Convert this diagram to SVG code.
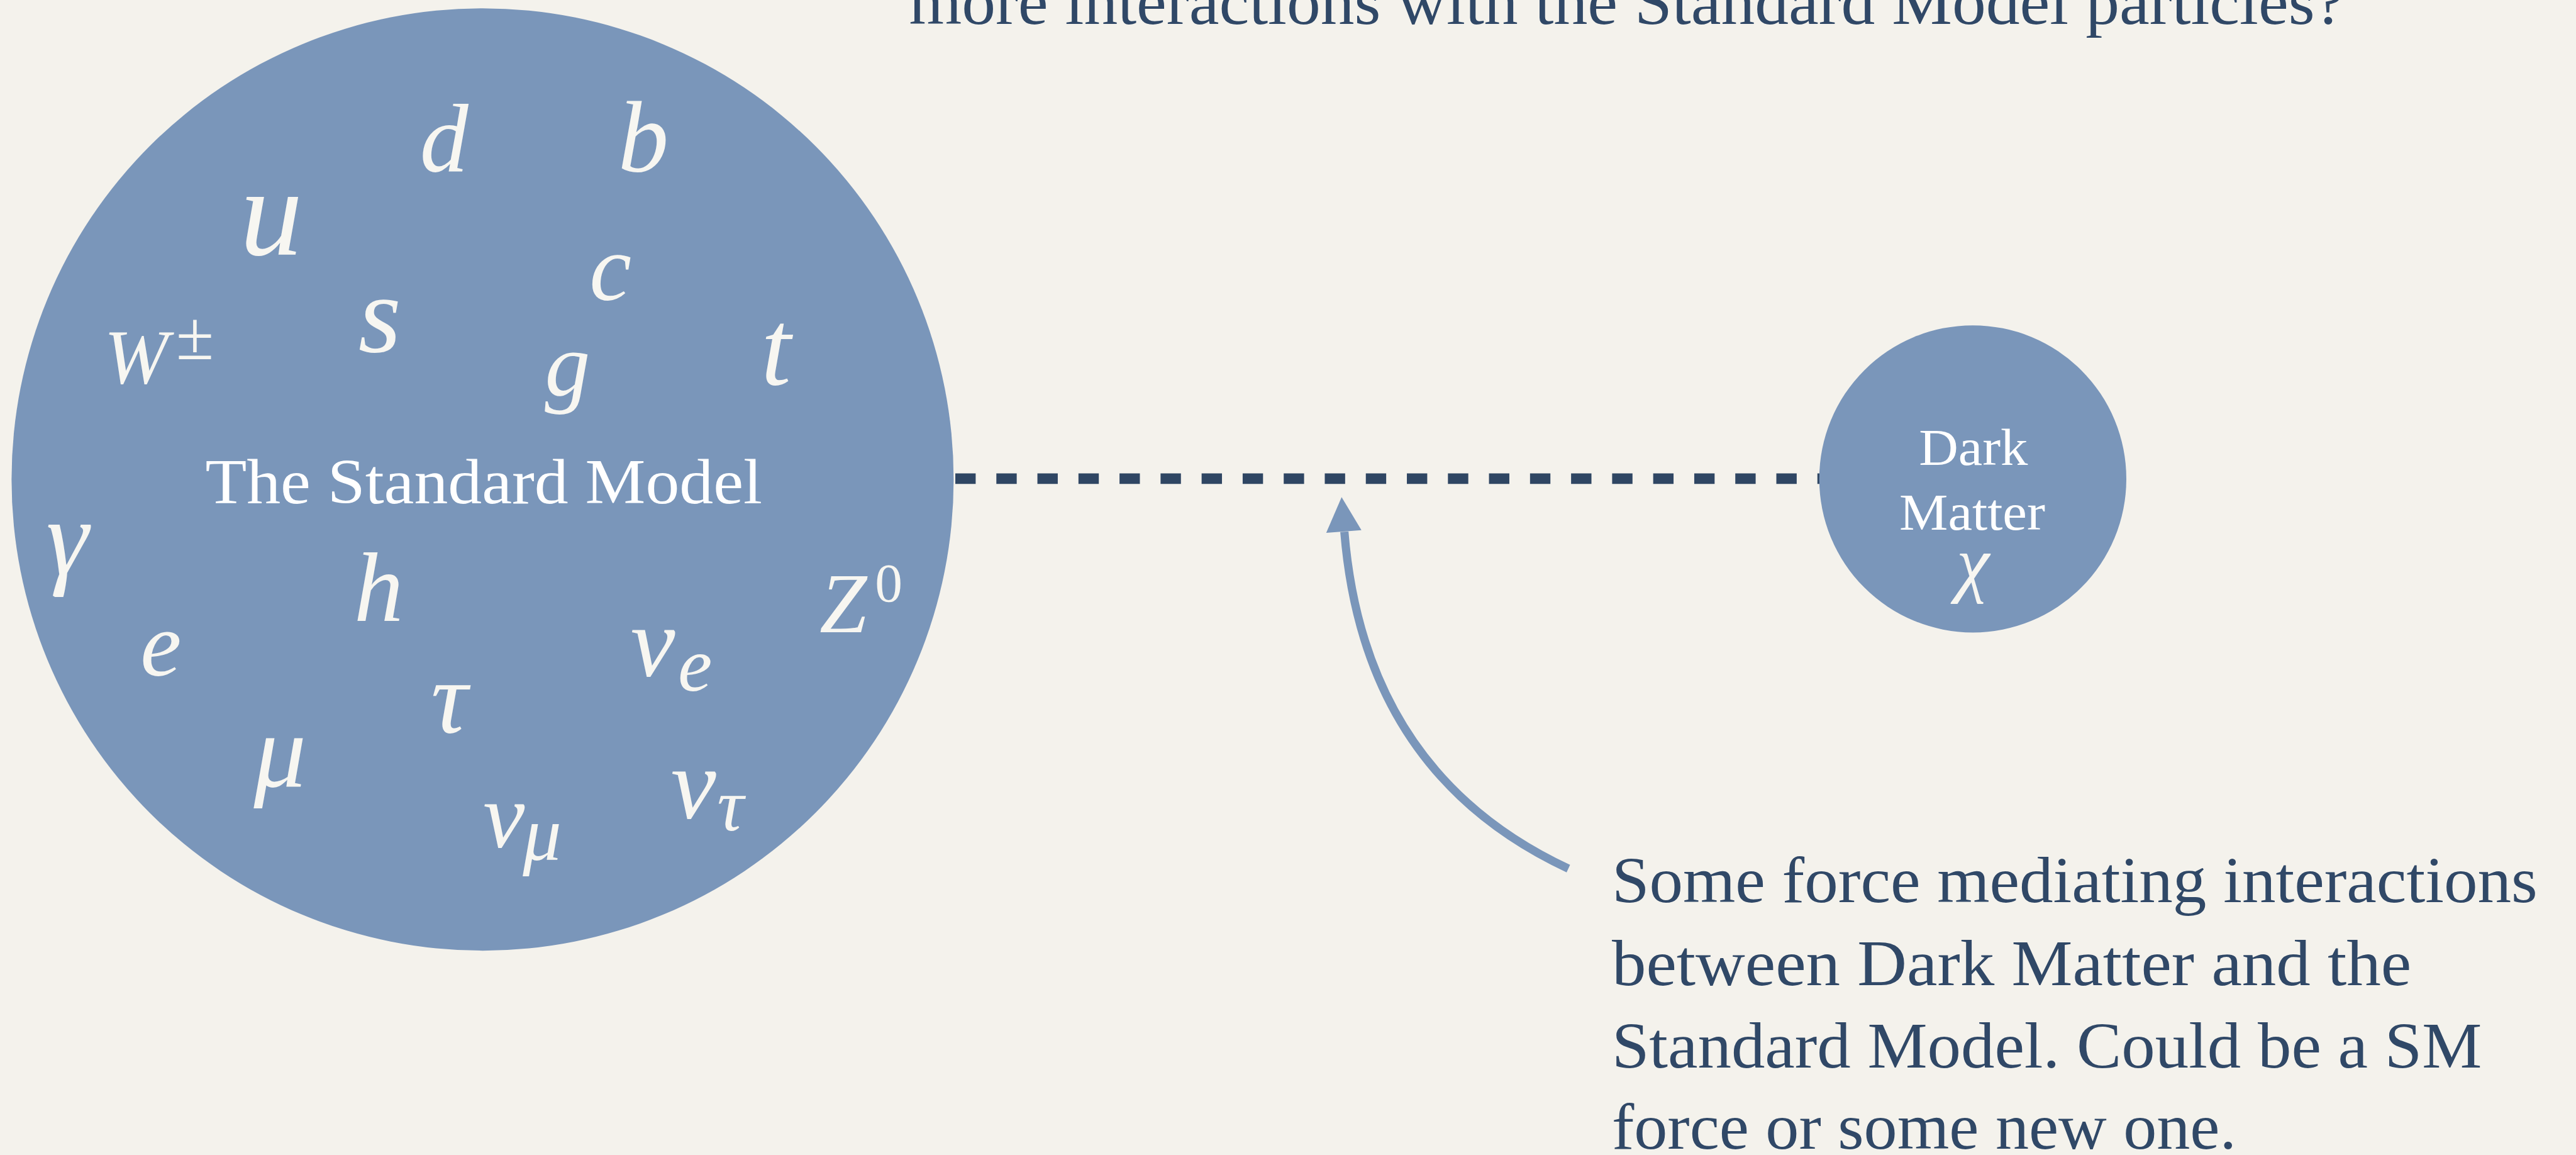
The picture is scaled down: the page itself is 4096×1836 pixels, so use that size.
<svg xmlns="http://www.w3.org/2000/svg" width="4096" height="1836" viewBox="0 0 4096 1836">
<style>
.txt{font-family:"Liberation Serif","Times New Roman",serif;fill:#304867;font-size:118px}
.wt{font-family:"Liberation Serif","Times New Roman",serif;fill:#FFFFFF}
.m{font-family:"Liberation Serif","Times New Roman",serif;font-style:italic;fill:#F7F6F1}
.r{font-family:"Liberation Serif","Times New Roman",serif;fill:#F7F6F1}
.node{fill:#7A96BA}
</style>
<rect x="0" y="0" width="4096" height="1836" fill="#F4F2EC"/>
<g transform="scale(0.875)">
  <text id="question" class="txt" x="1652" y="43" textLength="2609" lengthAdjust="spacingAndGlyphs">more interactions with the Standard Model particles?</text>

  <g id="connectors">
    <line x1="1736" y1="869.5" x2="3330" y2="869.5" stroke="#2F4663" stroke-width="19" stroke-dasharray="37 37.6"/>
    <path d="M2850,1578 C2640,1480 2470,1300 2443,966" fill="none" stroke="#7A96BA" stroke-width="15"/>
    <polygon points="2438,903 2410,968 2474,963" fill="#7A96BA"/>
  </g>

  <g id="standard-model">
    <circle class="node" cx="877" cy="871" r="856"/>
    <text class="wt" x="373" y="914" font-size="116" textLength="1012" lengthAdjust="spacingAndGlyphs">The Standard Model</text>
    <text class="m" x="763" y="311" font-size="176">d</text>
    <text class="m" x="1123" y="311" font-size="184">b</text>
    <text class="m" x="436" y="463" font-size="228">u</text>
    <text class="m" x="189" y="696" font-size="140">W</text>
    <text class="r" x="320" y="652" font-size="125">±</text>
    <text class="m" x="651" y="639" font-size="200">s</text>
    <text class="m" x="1071" y="545" font-size="172">c</text>
    <text class="m" x="990" y="718" font-size="165">g</text>
    <text class="m" x="1383" y="698" font-size="195">t</text>
    <text class="m" x="84" y="1042" font-size="195">γ</text>
    <text class="m" x="643" y="1128" font-size="180">h</text>
    <text class="m" x="1489" y="1149" font-size="155">Z</text>
    <text class="r" x="1590" y="1092" font-size="100">0</text>
    <text class="m" x="255" y="1227" font-size="168">e</text>
    <text class="m" x="1146" y="1227" font-size="182">ν</text>
    <text class="m" x="1232" y="1255" font-size="140">e</text>
    <text class="m" x="783" y="1330" font-size="186">τ</text>
    <text class="m" x="461" y="1428" font-size="190">μ</text>
    <text class="m" x="1219" y="1486" font-size="185">ν</text>
    <text class="m" x="1303" y="1509" font-size="135">τ</text>
    <text class="m" x="878" y="1539" font-size="170">ν</text>
    <text class="m" x="950" y="1562" font-size="140">μ</text>
  </g>

  <g id="dark-matter">
    <circle class="node" cx="3585" cy="870" r="279"/>
    <text class="wt" x="3586" y="844" font-size="94" text-anchor="middle" textLength="198" lengthAdjust="spacingAndGlyphs">Dark</text>
    <text class="wt" x="3584" y="962" font-size="94" text-anchor="middle" textLength="265" lengthAdjust="spacingAndGlyphs">Matter</text>
    <text class="m" x="3585" y="1068" font-size="135" text-anchor="middle" fill="#EEECE6">χ</text>
  </g>

  <g id="mediator-label" class="txt">
    <text x="2929" y="1639" textLength="1682" lengthAdjust="spacingAndGlyphs">Some force mediating interactions</text>
    <text x="2929" y="1790" textLength="1453" lengthAdjust="spacingAndGlyphs">between Dark Matter and the</text>
    <text x="2929" y="1939" textLength="1581" lengthAdjust="spacingAndGlyphs">Standard Model. Could be a SM</text>
    <text x="2929" y="2087" textLength="1135" lengthAdjust="spacingAndGlyphs">force or some new one.</text>
  </g>
</g>
</svg>
